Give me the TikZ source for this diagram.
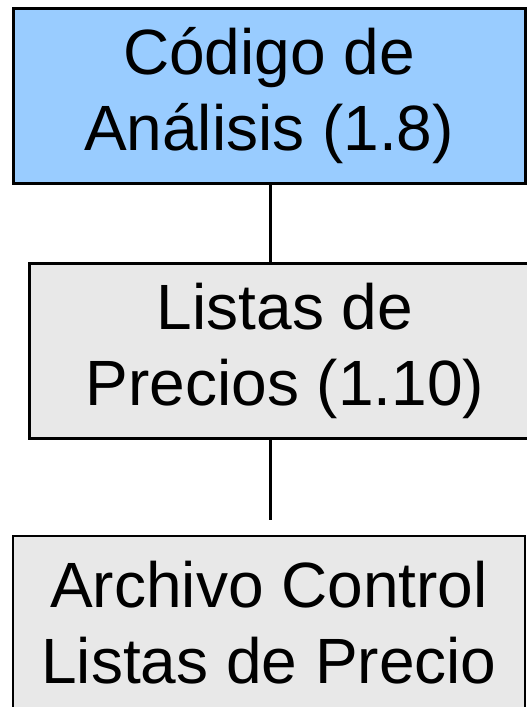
\documentclass[tikz,border=0pt]{standalone}
\usepackage{fontspec}
\setmainfont{Liberation Sans}
\usepackage{xcolor}
\definecolor{LightBlue}{HTML}{99CCFF}
\definecolor{PaleGray}{HTML}{E8E8E8}

\begin{document}
\begin{tikzpicture}[x=1pt, y=-1pt, line width=3pt,
      every node/.append style={align=center,inner sep=0pt,
        font=\fontsize{64}{76}\selectfont}]
    \tikzstyle{unit} = [draw=black,rectangle,minimum width=512pt,minimum height=175pt]
    \clip (0,0) rectangle (527,707);
    \fill[white] (0,0) rectangle (527,707);
    \node[unit,fill=LightBlue] (codigo) at (269,95.5) {Código de\\Análisis (1.8)};
    \node[unit,fill=PaleGray] (listas) at (285,351) {Listas de\\Precios (1.10)};
    \node[unit,fill=PaleGray,line width=2pt] (archivo) at (269,623) {Archivo Control\\Listas de Precio};
    \coordinate (stub) at (270,520);
    \draw (codigo.south -| 270,0) -- (listas.north -| 270,0);
    \draw (listas.south -| 270,0) -- (stub);
\end{tikzpicture}
\end{document}
